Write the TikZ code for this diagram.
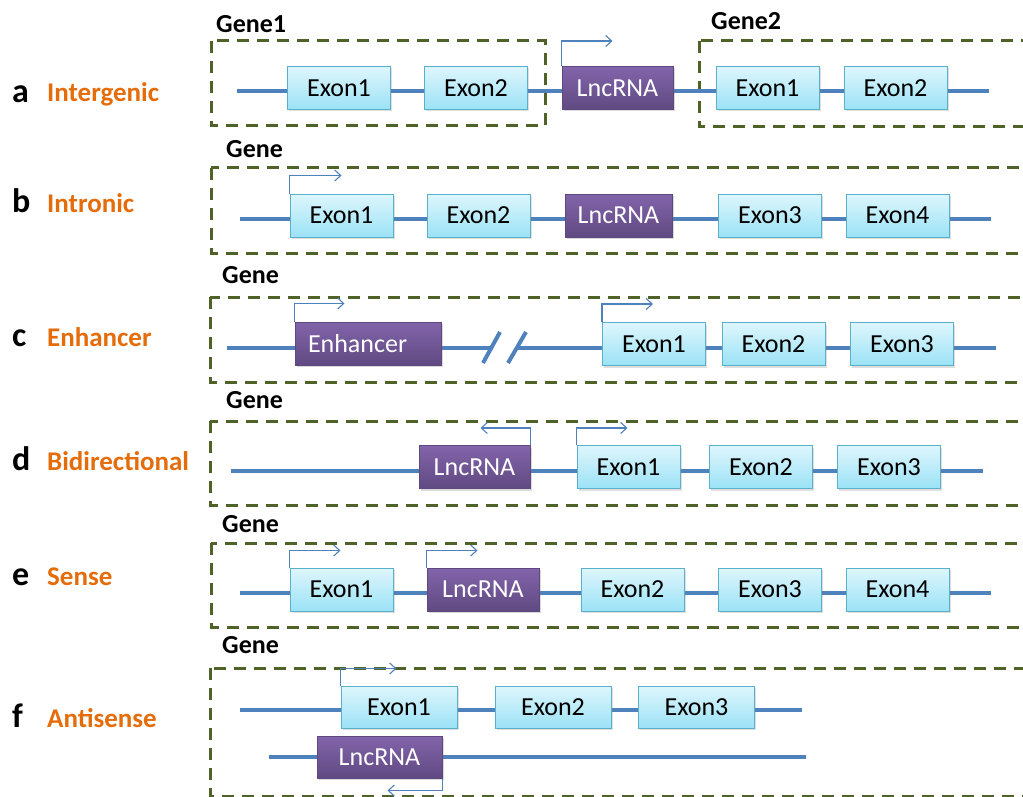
\documentclass[tikz,border=0pt]{standalone}
\usepackage{fontspec}
\setmainfont{Carlito}
\usepackage{xcolor}
\usepackage{tikz}
\usetikzlibrary{arrows.meta,positioning,shadows}

\definecolor{genecol}{RGB}{79,129,189}
\definecolor{regioncol}{RGB}{79,98,40}
\definecolor{typecol}{RGB}{228,108,10}
\definecolor{exonline}{RGB}{90,175,205}
\definecolor{exontop}{RGB}{222,246,252}
\definecolor{exonbot}{RGB}{155,226,246}
\definecolor{lnctop}{RGB}{130,100,170}
\definecolor{lncbot}{RGB}{96,74,130}
\definecolor{lncline}{RGB}{95,72,128}

\begin{document}
\begin{tikzpicture}[
    x=1pt,
    y=-1pt,
    >=Latex,
    every node/.style={font=\fontsize{26}{28}\selectfont, inner sep=0pt},
    dna/.style={line width=4pt, genecol},
    region/.style={draw=regioncol, line width=3pt, dash pattern=on 12pt off 8pt},
    exon/.style={draw=exonline, line width=1pt, top color=exontop,
        bottom color=exonbot, minimum width=103pt, minimum height=43pt,
        drop shadow={opacity=0.25, shadow xshift=1.5pt, shadow yshift=-2pt}},
    lnc/.style={draw=lncline, line width=1pt, top color=lnctop,
        bottom color=lncbot, text=white, minimum height=43pt,
        drop shadow={opacity=0.3, shadow xshift=1.5pt, shadow yshift=-2pt}},
    tss/.style={draw=genecol, line width=1.1pt,
        -{Straight Barb[length=6pt,width=11pt]}},
    rowlet/.style={anchor=base west, font=\fontsize{34}{36}\selectfont\bfseries},
    rowname/.style={anchor=base west, text=typecol,
        font=\fontsize{27}{30}\selectfont\bfseries},
    genelab/.style={anchor=base west, font=\fontsize{26}{28}\selectfont\bfseries}
]

\useasboundingbox (0,0) rectangle (1023,797);
\clip (0,0) rectangle (1023,797);

% a: intergenic
\node[rowlet] (la) at (12,103) {a};
\node[rowname] (na) at (47,102) {Intergenic};
\node[genelab] (ga1) at (216,33) {Gene1};
\node[genelab] (ga2) at (711,30) {Gene2};
\draw[region] (211,41) rectangle (545,126);
\draw[region] (699,41) rectangle (1040,127);
\coordinate (a0) at (237,91.5);
\coordinate (a9) at (989,91.5);
\draw[dna] (a0) -- (a9);
\node[exon] (a1) at (339,88) {Exon1};
\node[exon] (a2) at (476,88) {Exon2};
\node[lnc, minimum width=111pt] (a3) at (617.5,88) {LncRNA};
\node[exon] (a4) at (767.5,88) {Exon1};
\node[exon] (a5) at (895.5,88) {Exon2};
\draw[tss] (a3.north west) -- ++(0,-25) -- ++(51,0);

% b: intronic
\node[rowlet] (lb) at (12,212) {b};
\node[rowname] (nb) at (47,212) {Intronic};
\node[genelab] (gb) at (226,158) {Gene};
\draw[region] (211,168) rectangle (1040,253);
\coordinate (b0) at (240,219);
\coordinate (b9) at (991,219);
\draw[dna] (b0) -- (b9);
\node[exon] (b1) at (341.5,215.5) {Exon1};
\node[exon] (b2) at (478.5,215.5) {Exon2};
\node[lnc, minimum width=107pt] (b3) at (618.5,215.5) {LncRNA};
\node[exon] (b4) at (770,215.5) {Exon3};
\node[exon] (b5) at (897.5,215.5) {Exon4};
\draw[tss] (b1.north west) -- ++(0,-18) -- ++(52,0);

% c: enhancer
\node[rowlet] (lc) at (12,346) {c};
\node[rowname] (nc) at (47,346) {Enhancer};
\node[genelab] (gc) at (222,283) {Gene};
\draw[region] (210,297) rectangle (1040,382);
\coordinate (c0) at (227,348);
\coordinate (c4) at (492,348);
\coordinate (c5) at (517,348);
\coordinate (c9) at (996,348);
\draw[dna] (c0) -- (c4);
\draw[dna] (c5) -- (c9);
\draw[dna] (483,363) -- (500,332);
\draw[dna] (508,363) -- (526,332);
\node[lnc, text width=120pt, inner xsep=13pt, align=left] (c1) at (368,343.5) {Enhancer};
\node[exon] (c2) at (654,344) {Exon1};
\node[exon] (c3) at (773.5,344) {Exon2};
\node[exon] (c6) at (902,344) {Exon3};
\draw[tss] (c1.north west) -- ++(0,-18) -- ++(50,0);
\draw[tss] (c2.north west) -- ++(0,-18) -- ++(51,0);

% d: bidirectional
\node[rowlet] (ld) at (12,470) {d};
\node[rowname] (nd) at (47,470) {Bidirectional};
\node[genelab] (gd) at (226,408) {Gene};
\draw[region] (210,421) rectangle (1040,505);
\coordinate (d0) at (231,471);
\coordinate (d9) at (983,471);
\draw[dna] (d0) -- (d9);
\node[lnc, minimum width=111pt] (d1) at (474.5,467) {LncRNA};
\node[exon] (d2) at (628.5,467) {Exon1};
\node[exon] (d3) at (761,467) {Exon2};
\node[exon] (d4) at (889,467) {Exon3};
\draw[tss] (d1.north east) -- ++(0,-17) -- ++(-50,0);
\draw[tss] (d2.north west) -- ++(0,-17) -- ++(51,0);

% e: sense
\node[rowlet] (le) at (12,585) {e};
\node[rowname] (ne) at (47,585) {Sense};
\node[genelab] (ge) at (222,532) {Gene};
\draw[region] (211,543) rectangle (1040,627);
\coordinate (e0) at (240,593);
\coordinate (e9) at (991,593);
\draw[dna] (e0) -- (e9);
\node[exon] (e1) at (341.5,589.5) {Exon1};
\node[lnc, minimum width=112pt] (e2) at (483,589.5) {LncRNA};
\node[exon] (e3) at (632.5,589.5) {Exon2};
\node[exon] (e4) at (770,589.5) {Exon3};
\node[exon] (e5) at (897.5,589.5) {Exon4};
\draw[tss] (e1.north west) -- ++(0,-17) -- ++(51,0);
\draw[tss] (e2.north west) -- ++(0,-17) -- ++(51,0);

% f: antisense
\node[rowlet] (lf) at (12,727) {f};
\node[rowname] (nf) at (47,727) {Antisense};
\node[genelab] (gf) at (222,653) {Gene};
\draw[region] (210,668) rectangle (1040,796);
\coordinate (f0) at (240,710);
\coordinate (f9) at (802,710);
\coordinate (g0) at (269,757);
\coordinate (g9) at (806,757);
\draw[dna] (f0) -- (f9);
\draw[dna] (g0) -- (g9);
\node[exon, minimum width=116pt, minimum height=42pt] (f1) at (399,707) {Exon1};
\node[exon, minimum width=116pt, minimum height=42pt] (f2) at (553,707) {Exon2};
\node[exon, minimum width=116pt, minimum height=42pt] (f3) at (696.5,707) {Exon3};
\node[lnc, minimum width=125pt, minimum height=42pt] (g1) at (379.5,757) {LncRNA};
\draw[tss] (f1.north west) -- ++(0,-17) -- ++(56,0);
\draw[tss] (g1.south east) -- ++(0,12) -- ++(-55,0);

\end{tikzpicture}
\end{document}
